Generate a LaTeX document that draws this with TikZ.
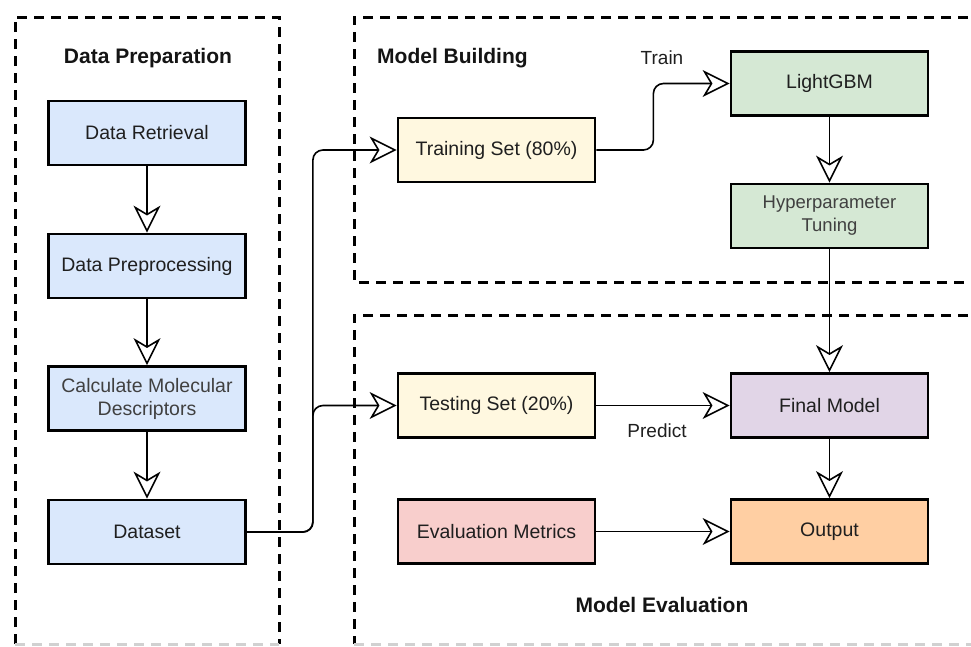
\documentclass[tikz,border=0pt]{standalone}
\usepackage{fontspec}
\setmainfont{Liberation Sans}
\usetikzlibrary{arrows.meta}
\definecolor{bluefill}{HTML}{DAE8FC}
\definecolor{yellowfill}{HTML}{FFF8E0}
\definecolor{greenfill}{HTML}{D5E8D4}
\definecolor{purplefill}{HTML}{E1D5E7}
\definecolor{pinkfill}{HTML}{F8CECC}
\definecolor{orangefill}{HTML}{FFCFA3}
\begin{document}
\begin{tikzpicture}[x=1pt,y=-1pt,
  box/.style={draw=black, line width=2.8pt, minimum width=197pt, minimum height=64pt,
    inner sep=2pt, align=center, text=black!88, font=\fontsize{19.5}{23}\selectfont},
  smallbox/.style={box, text=black!75, font=\fontsize{18.5}{23}\selectfont},
  title/.style={font=\fontsize{21}{24}\selectfont\bfseries, text=black!92, inner sep=0pt},
  lbl/.style={font=\fontsize{19}{22}\selectfont, text=black!88, inner sep=0pt},
  conn/.style={line width=1.6pt, -{Stealth[open, fill=white, length=27pt, width=27pt, inset=8pt, line width=1.6pt]}},
  frame/.style={line width=3pt, dash pattern=on 10pt off 7pt},
  faint/.style={line width=3pt, dash pattern=on 10pt off 7pt, draw=black!18}]
\useasboundingbox (0,0) rectangle (971,646);
\clip (0,0) rectangle (971,646);

% dashed group frames
\draw[frame] (15,644) -- (15,17) -- (279,17) -- (279,644);
\draw[faint] (15,644) -- (279,644);
\draw[frame] (985,17) -- (354,17) -- (354,282) -- (985,282);
\draw[frame] (985,315) -- (354,315) -- (354,644);
\draw[faint] (354,644) -- (985,644);

% titles and labels
\node[title] (tprep) at (148,58) {Data Preparation};
\node[title, anchor=west] (tbuild) at (377,58) {Model Building};
\node[title] (teval) at (662,605) {Model Evaluation};
\node[lbl] (ltrain) at (662,58) {Train};
\node[lbl] (lpredict) at (657,431) {Predict};

% nodes
\node[box, fill=bluefill] (dr) at (147,133) {Data Retrieval};
\node[box, fill=bluefill] (dp) at (147,266) {Data Preprocessing};
\node[smallbox, fill=bluefill, font=\fontsize{19.5}{23}\selectfont] (cm) at (147,398.5) {Calculate Molecular\\Descriptors};
\node[box, fill=bluefill] (ds) at (147,532) {Dataset};
\node[box, fill=yellowfill] (tr) at (496.5,150) {Training Set (80\%)};
\node[box, fill=greenfill] (lg) at (829.5,83.5) {LightGBM};
\node[smallbox, fill=greenfill] (hp) at (829.5,216) {Hyperparameter\\Tuning};
\node[box, fill=yellowfill] (te) at (496.5,405.5) {Testing Set (20\%)};
\node[box, fill=purplefill] (fm) at (829.5,405.5) {Final Model};
\node[box, fill=pinkfill] (em) at (496.5,531.5) {Evaluation Metrics};
\node[box, fill=orangefill] (out) at (829.5,531.5) {Output};

% connectors
\draw[conn] (dr.south) -- (dp.north);
\draw[conn] (dp.south) -- (cm.north);
\draw[conn] (cm.south) -- (ds.north);
\draw[conn, rounded corners=10pt] (ds.east) -- ++(66,0) |- (tr.west);
\draw[conn, rounded corners=10pt] (ds.east) -- ++(66,0) |- (te.west);
\draw[conn, rounded corners=10pt] (tr.east) -- ++(57,0) |- (lg.west);
\draw[conn] (lg.south) -- (hp.north);
\draw[conn] (hp.south) -- (fm.north);
\draw[conn] (te.east) -- (fm.west);
\draw[conn] (fm.south) -- (out.north);
\draw[conn] (em.east) -- (out.west);
\end{tikzpicture}
\end{document}
